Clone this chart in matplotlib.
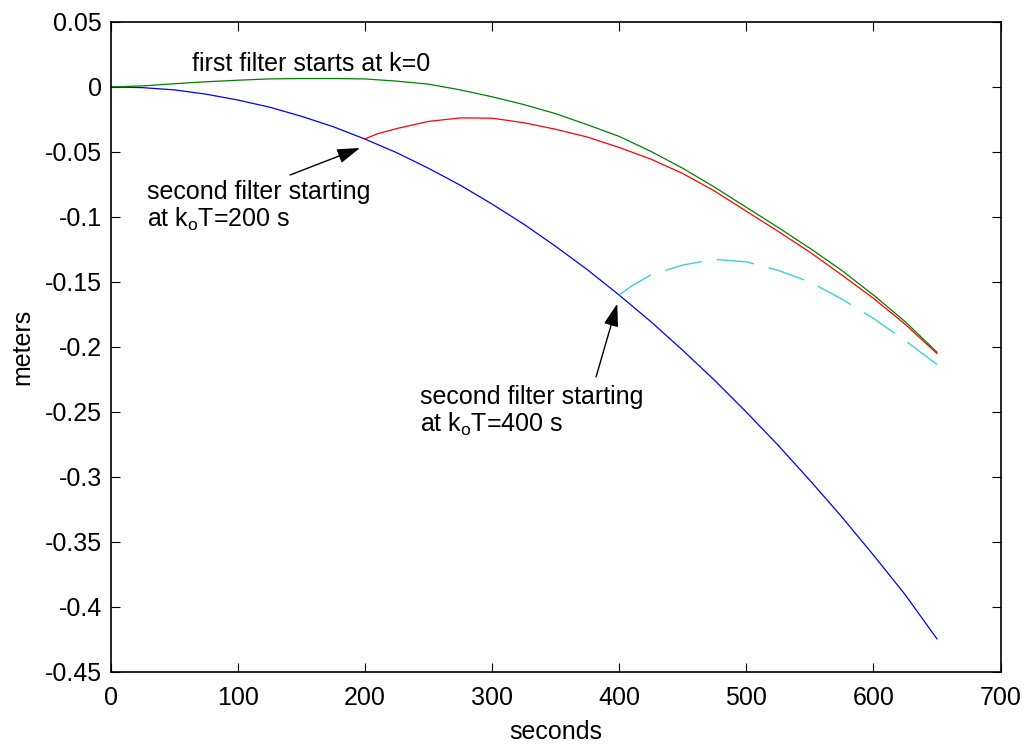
import matplotlib
matplotlib.use("Agg")
import matplotlib.pyplot as plt

plt.rcParams['font.family'] = ['Liberation Sans', 'DejaVu Sans']
plt.rcParams['mathtext.fontset'] = 'custom'
plt.rcParams['mathtext.rm'] = 'Liberation Sans'
plt.rcParams['mathtext.it'] = 'Liberation Sans'

# seconds, every 25 s
t_full = [0, 25, 50, 75, 100, 125, 150, 175, 200, 225, 250, 275, 300, 325,
          350, 375, 400, 425, 450, 475, 500, 525, 550, 575, 600, 625, 650]

# blue: true trajectory
blue = [0, -0.0005, -0.0022, -0.0055, -0.0100, -0.0155, -0.0225, -0.0305,
        -0.040, -0.0505, -0.0625, -0.0755, -0.090, -0.1055, -0.1225, -0.1405,
        -0.160, -0.1805, -0.2025, -0.2255, -0.250, -0.2755, -0.3025, -0.3305,
        -0.360, -0.3905, -0.4245]

# green: first filter, starts at k=0
green = [0, 0.0008, 0.0025, 0.0040, 0.0052, 0.0062, 0.0065, 0.0065, 0.0062,
         0.0045, 0.0022, -0.0022, -0.0075, -0.0135, -0.0205, -0.029, -0.038,
         -0.0495, -0.0625, -0.077, -0.0925, -0.108, -0.124, -0.141, -0.160,
         -0.1805, -0.204]

# red: second filter from 200 s
t_red = [200, 210, 225, 250, 275, 300, 325, 350, 375, 400, 425, 450, 475,
         500, 525, 550, 575, 600, 625, 650]
red = [-0.040, -0.036, -0.032, -0.0265, -0.0238, -0.024, -0.0275, -0.0325,
       -0.0385, -0.0465, -0.0555, -0.0665, -0.080, -0.0955, -0.111, -0.127,
       -0.1445, -0.1625, -0.1825, -0.205]

# cyan: second filter from 400 s
t_cyan = [400, 410, 425, 450, 475, 500, 525, 550, 575, 600, 625, 650]
cyan = [-0.160, -0.153, -0.1445, -0.137, -0.1326, -0.1345, -0.141, -0.150,
        -0.163, -0.178, -0.195, -0.2135]

fig = plt.figure(figsize=(10.27, 7.45), dpi=100)
ax = fig.add_axes([0.1076, 0.098, 0.8666, 0.8725])

ax.plot(t_full, blue, color='#0000ff', lw=0.9)
ax.plot(t_full, green, color='#008000', lw=0.9)
ax.plot(t_red, red, color='#ff0000', lw=0.9)
ax.plot(t_cyan, cyan, color='#40d0d0', lw=1.0, dashes=(27, 11))

ax.set_xlim(0, 700)
ax.set_ylim(-0.45, 0.05)
ax.set_xticks(range(0, 701, 100))
ax.set_yticks([0.05, 0, -0.05, -0.1, -0.15, -0.2, -0.25, -0.3, -0.35, -0.4, -0.45])
ax.set_yticklabels(['0.05', '0', '-0.05', '-0.1', '-0.15', '-0.2', '-0.25',
                    '-0.3', '-0.35', '-0.4', '-0.45'])
ax.tick_params(direction='in', length=6.5, width=0.8, labelsize=18,
               top=True, right=True)
ax.tick_params(axis='x', pad=10)
ax.tick_params(axis='y', pad=6)
for s in ax.spines.values():
    s.set_linewidth(1.2)

ax.set_xlabel('seconds', fontsize=18, labelpad=7)
ax.set_ylabel('meters', fontsize=18, labelpad=8)

fs = 18
ax.text(64, 0.0123, 'first filter starts at k=0', fontsize=fs, va='baseline')
ax.text(28.5, -0.0862, 'second filter starting', fontsize=fs, va='baseline')
ax.text(28.5, -0.1077, r'at k$_{\mathrm{o}}$T=200 s', fontsize=fs, va='baseline')
ax.text(243.4, -0.2436, 'second filter starting', fontsize=fs, va='baseline')
ax.text(243.4, -0.2654, r'at k$_{\mathrm{o}}$T=400 s', fontsize=fs, va='baseline')

arrow = dict(arrowstyle='-|>,head_length=1.4,head_width=0.45', color='black',
             lw=1.0, shrinkA=0, shrinkB=0)
ax.annotate('', xy=(196.2, -0.0469), xytext=(141.2, -0.0677), arrowprops=arrow)
ax.annotate('', xy=(398.6, -0.1667), xytext=(381.9, -0.223), arrowprops=arrow)

fig.savefig('out.png', dpi=100)
